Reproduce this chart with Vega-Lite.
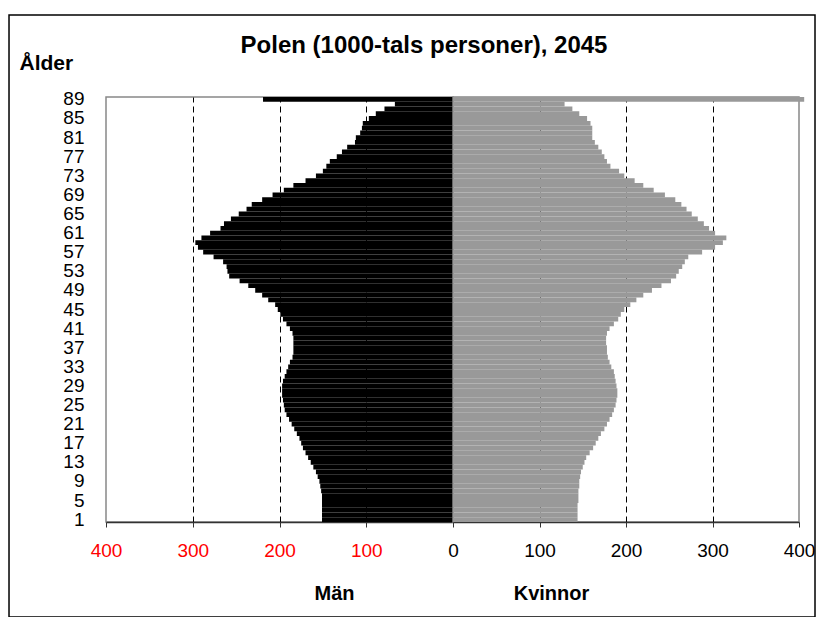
{
  "$schema": "https://vega.github.io/schema/vega-lite/v6.json",
  "autosize": {"type": "pad"},
  "padding": {"left": 7, "top": 13, "right": 0, "bottom": 0},
  "background": "white",
  "datasets": {
    "pop": [
      {"age": 1, "men": 151, "women": 144}, {"age": 2, "men": 151, "women": 144}, {"age": 3, "men": 151, "women": 144},
      {"age": 4, "men": 151, "women": 144}, {"age": 5, "men": 151, "women": 145}, {"age": 6, "men": 151, "women": 145},
      {"age": 7, "men": 152, "women": 145}, {"age": 8, "men": 153, "women": 146}, {"age": 9, "men": 154, "women": 146},
      {"age": 10, "men": 156, "women": 147}, {"age": 11, "men": 158, "women": 148}, {"age": 12, "men": 161, "women": 150},
      {"age": 13, "men": 164, "women": 152}, {"age": 14, "men": 167, "women": 154}, {"age": 15, "men": 170, "women": 158},
      {"age": 16, "men": 173, "women": 162}, {"age": 17, "men": 175, "women": 165}, {"age": 18, "men": 177, "women": 168},
      {"age": 19, "men": 180, "women": 171}, {"age": 20, "men": 183, "women": 175}, {"age": 21, "men": 186, "women": 178},
      {"age": 22, "men": 189, "women": 181}, {"age": 23, "men": 192, "women": 184}, {"age": 24, "men": 194, "women": 186},
      {"age": 25, "men": 195, "women": 188}, {"age": 26, "men": 196, "women": 189}, {"age": 27, "men": 197, "women": 190},
      {"age": 28, "men": 197, "women": 190}, {"age": 29, "men": 197, "women": 189}, {"age": 30, "men": 196, "women": 188},
      {"age": 31, "men": 194, "women": 187}, {"age": 32, "men": 192, "women": 186}, {"age": 33, "men": 190, "women": 183},
      {"age": 34, "men": 188, "women": 181}, {"age": 35, "men": 185, "women": 179}, {"age": 36, "men": 184, "women": 178},
      {"age": 37, "men": 184, "women": 178}, {"age": 38, "men": 184, "women": 177}, {"age": 39, "men": 184, "women": 177},
      {"age": 40, "men": 185, "women": 178}, {"age": 41, "men": 188, "women": 181}, {"age": 42, "men": 192, "women": 186},
      {"age": 43, "men": 196, "women": 191}, {"age": 44, "men": 199, "women": 194}, {"age": 45, "men": 202, "women": 198},
      {"age": 46, "men": 205, "women": 205}, {"age": 47, "men": 213, "women": 212}, {"age": 48, "men": 220, "women": 220},
      {"age": 49, "men": 228, "women": 230}, {"age": 50, "men": 236, "women": 241}, {"age": 51, "men": 246, "women": 252},
      {"age": 52, "men": 258, "women": 258}, {"age": 53, "men": 260, "women": 261}, {"age": 54, "men": 261, "women": 265},
      {"age": 55, "men": 265, "women": 268}, {"age": 56, "men": 276, "women": 272}, {"age": 57, "men": 288, "women": 288},
      {"age": 58, "men": 294, "women": 303}, {"age": 59, "men": 297, "women": 312}, {"age": 60, "men": 290, "women": 316},
      {"age": 61, "men": 280, "women": 303}, {"age": 62, "men": 268, "women": 296}, {"age": 63, "men": 264, "women": 290},
      {"age": 64, "men": 256, "women": 283}, {"age": 65, "men": 247, "women": 276}, {"age": 66, "men": 238, "women": 270},
      {"age": 67, "men": 232, "women": 264}, {"age": 68, "men": 220, "women": 257}, {"age": 69, "men": 208, "women": 245},
      {"age": 70, "men": 195, "women": 232}, {"age": 71, "men": 184, "women": 220}, {"age": 72, "men": 170, "women": 210},
      {"age": 73, "men": 158, "women": 198}, {"age": 74, "men": 150, "women": 192}, {"age": 75, "men": 146, "women": 182},
      {"age": 76, "men": 142, "women": 178}, {"age": 77, "men": 134, "women": 175}, {"age": 78, "men": 128, "women": 172},
      {"age": 79, "men": 122, "women": 168}, {"age": 80, "men": 113, "women": 164}, {"age": 81, "men": 112, "women": 161},
      {"age": 82, "men": 107, "women": 161}, {"age": 83, "men": 105, "women": 161}, {"age": 84, "men": 104, "women": 159},
      {"age": 85, "men": 97, "women": 155}, {"age": 86, "men": 89, "women": 146}, {"age": 87, "men": 79, "women": 138},
      {"age": 88, "men": 67, "women": 129}, {"age": 89, "men": 219, "women": 406}
    ]
  },
  "spacing": 0,
  "bounds": "flush",
  "hconcat": [
    {
      "width": 347,
      "height": 425,
      "layer": [
        {
          "data": {"name": "pop"},
          "mark": {"type": "bar", "color": "#000000"},
          "encoding": {
            "y": {
              "field": "age", "type": "ordinal", "sort": "descending",
              "scale": {"paddingInner": 0, "paddingOuter": 0},
              "axis": {
                "labelExpr": "(datum.value - 1) % 4 === 0 ? datum.label : ''",
                "ticks": false, "domain": false, "grid": false, "labelPadding": 22, "labelAngle": 0,
                "labelFontSize": 19, "labelOverlap": false, "labelBound": false, "labelFlush": false,
                "labelBaseline": "middle", "labelColor": "#000000",
                "title": "Ålder", "titleAngle": 0, "titleAlign": "left", "titleBaseline": "middle",
                "titleX": -87, "titleY": -34, "titleFontSize": 21
              }
            },
            "x": {
              "field": "men", "type": "quantitative",
              "scale": {"domain": [0, 400], "reverse": true, "nice": false},
              "axis": {
                "values": [100, 200, 300, 400],
                "labelColor": "#ff0000", "labelFlush": false,
                "grid": true, "gridDash": [6, 4], "gridColor": "#000000",
                "gridOpacity": {"condition": {"test": "datum.value >= 400", "value": 0}, "value": 1},
                "title": "Män", "titleX": 228, "titleY": 71, "titleBaseline": "middle", "titleAlign": "center"
              }
            }
          }
        },
        {
          "data": {"values": [{}]},
          "mark": {"type": "rect", "filled": false, "stroke": "#000000", "strokeWidth": 1.5},
          "encoding": {
            "x": {"datum": 511.8, "type": "quantitative"},
            "x2": {"datum": -417.3},
            "y": {"datum": 1.193, "type": "quantitative", "scale": {"domain": [0, 1], "nice": false, "zero": false}, "axis": null},
            "y2": {"datum": -0.2235}
          }
        },
        {
          "data": {"values": [{"title": "Polen (1000-tals personer), 2045"}]},
          "mark": {"type": "text", "font": "Liberation Sans", "fontSize": 24, "fontWeight": "bold", "color": "#000000", "align": "center", "baseline": "middle"},
          "encoding": {
            "text": {"field": "title"},
            "x": {"datum": 33.4, "type": "quantitative"},
            "y": {"datum": 1.12, "type": "quantitative", "scale": {"domain": [0, 1], "nice": false, "zero": false}, "axis": null}
          }
        }
      ],
      "resolve": {"scale": {"y": "independent"}, "axis": {"y": "independent"}}
    },
    {
      "width": 346,
      "height": 425,
      "data": {"name": "pop"},
      "mark": {"type": "bar", "color": "#999999"},
      "encoding": {
        "y": {"field": "age", "type": "ordinal", "sort": "descending", "scale": {"paddingInner": 0, "paddingOuter": 0}, "axis": null},
        "x": {
          "field": "women", "type": "quantitative",
          "scale": {"domain": [0, 400], "nice": false},
          "axis": {
            "values": [0, 100, 200, 300, 400],
            "labelColor": "#000000", "labelFlush": false,
            "grid": true, "gridDash": [6, 4], "gridColor": "#000000",
            "gridOpacity": {"condition": {"test": "datum.value >= 400 || datum.value == 0", "value": 0}, "value": 1},
            "title": "Kvinnor", "titleX": 98, "titleY": 71, "titleBaseline": "middle", "titleAlign": "center"
          }
        }
      }
    }
  ],
  "config": {
    "font": "Liberation Sans",
    "view": {"stroke": "#888888", "strokeWidth": 1.5},
    "axis": {
      "labelFont": "Liberation Sans",
      "labelFontSize": 19,
      "titleFont": "Liberation Sans",
      "titleFontSize": 20,
      "titleFontWeight": "bold",
      "titleColor": "#000000",
      "domainColor": "#333333",
      "domainWidth": 1.5,
      "tickColor": "#333333",
      "tickSize": 5,
      "labelPadding": 14
    }
  }
}
